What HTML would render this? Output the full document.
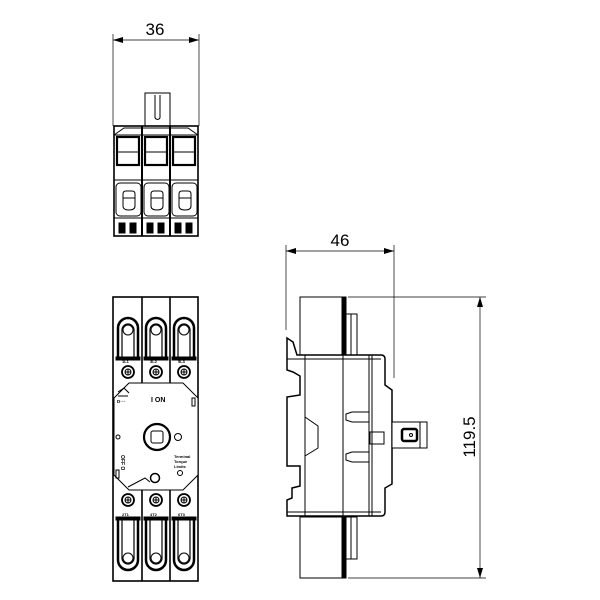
<!DOCTYPE html>
<html><head><meta charset="utf-8"><style>
html,body{margin:0;padding:0;background:#fff;width:600px;height:600px;overflow:hidden}
svg{display:block}
text{font-family:"Liberation Sans",sans-serif}
</style></head><body>
<svg width="600" height="600" viewBox="0 0 600 600" xmlns="http://www.w3.org/2000/svg">
<defs>
<marker id="ar" viewBox="0 0 10 6" refX="10" refY="3" markerWidth="10" markerHeight="6" orient="auto-start-reverse" markerUnits="userSpaceOnUse"><path d="M0,0 L10,3 L0,6 z" fill="#000"/></marker>
</defs>
<g stroke="#000" fill="none" stroke-width="1">
<!-- ===== TOP VIEW ===== -->
<line x1="113" y1="34" x2="113" y2="126" stroke-width="0.7"/>
<line x1="199" y1="34" x2="199" y2="126" stroke-width="0.7"/>
<line x1="113" y1="40" x2="199" y2="40" stroke-width="0.7" marker-start="url(#ar)" marker-end="url(#ar)"/>
<rect x="145" y="93" width="25" height="33" fill="#fff"/>
<line x1="155" y1="95" x2="155" y2="118"/><line x1="160" y1="95" x2="160" y2="118"/>
<path d="M155,118 Q157.5,121 160,118"/>
<rect x="114" y="126" width="84" height="110" stroke-width="1.6"/>
<path d="M114,135 L124,128 L188,128 L198,135" />
<line x1="114" y1="135" x2="198" y2="135"/>
<line x1="114" y1="180" x2="198" y2="180"/>
<line x1="114" y1="218" x2="198" y2="218"/>
<g id="tc">
<rect x="117" y="137" width="22" height="28" stroke-width="2.2"/>
<line x1="118" y1="152" x2="138" y2="152"/>
<rect x="116" y="183" width="25" height="33" rx="4"/>
<path d="M123,194 q0,-3 3,-3 h6 q3,0 3,3 v12 q0,4 -6,4 q-6,0 -6,-4 z"/>
<line x1="123" y1="198" x2="135" y2="198"/>
<rect x="119" y="223" width="6" height="10" fill="#000"/>
<rect x="130" y="223" width="6" height="10" fill="#000"/>
</g>
<use href="#tc" x="28"/>
<use href="#tc" x="56"/>
<line x1="142" y1="126" x2="142" y2="236" stroke-width="2"/>
<line x1="170" y1="126" x2="170" y2="236" stroke-width="2"/>
<!-- ===== FRONT VIEW ===== -->
<rect x="113" y="297" width="85" height="284" stroke-width="1.6"/>
<line x1="142" y1="297" x2="142" y2="581" stroke-width="1.6"/>
<line x1="170" y1="297" x2="170" y2="581" stroke-width="1.6"/>
<g id="ft">
<path d="M118,357 V328 a10,10 0 0 1 20,0 V357" stroke-width="2.5"/>
<path d="M122,357 V330 a6,6 0 0 1 12,0 V357" stroke-width="1.2"/>
<circle cx="128" cy="330" r="5"/>
<rect x="116" y="357" width="24" height="3" fill="#000"/>
<circle cx="128" cy="372" r="6" stroke-width="1.8"/><circle cx="128" cy="372" r="3"/>
<path d="M125,372 h6 M128,369 v6"/>
<circle cx="128" cy="500" r="6" stroke-width="1.8"/><circle cx="128" cy="500" r="3"/>
<path d="M125,500 h6 M128,497 v6"/>
<rect x="116" y="517" width="24" height="3" fill="#000"/>
<path d="M118,520 V560 a10,10 0 0 0 20,0 V520" stroke-width="2.5"/>
<path d="M122,520 V558 a6,6 0 0 0 12,0 V520" stroke-width="1.2"/>
<circle cx="128" cy="558" r="5"/>
</g>
<use href="#ft" x="28"/>
<use href="#ft" x="56"/>
<path d="M114,398 L129,383 L183,383 L198,398 L198,475 L183,490 L129,490 L114,475 Z" fill="#fff"/>
<circle cx="157" cy="437" r="13" stroke-width="2.2"/>
<rect x="151" y="431" width="12" height="12" rx="2"/>
<circle cx="178" cy="437" r="3.5"/>
<circle cx="155" cy="478" r="4.5" stroke-width="1.5"/>
<circle cx="180" cy="473" r="2.5"/>
<rect x="192" y="398" width="3" height="8"/>
<rect x="116" y="470" width="3" height="8"/>
<path d="M128,487 L145,478 L150,482"/>
<circle cx="118" cy="437" r="2"/>
<path d="M118,392 l6,-4 l5,5 M118,396 h10"/>
</g>
<g fill="#000" font-size="6" font-weight="bold">
<text x="151" y="402" font-size="7">I ON</text>
<text x="117" y="403" font-size="5">ɒ◦◦◦</text>
<text x="174" y="458" font-size="4">Terminal</text>
<text x="174" y="463" font-size="4">Torque</text>
<text x="174" y="468" font-size="4">Limits</text>
<text x="0" y="0" font-size="5" transform="translate(121,455) rotate(90)">OFF O</text>
<text x="122" y="363" font-size="4">1L1</text><text x="150" y="363" font-size="4">3L2</text><text x="178" y="363" font-size="4">5L3</text>
<text x="122" y="516" font-size="4">2T1</text><text x="150" y="516" font-size="4">4T2</text><text x="178" y="516" font-size="4">6T3</text>
</g>
<g stroke="#000" fill="none" stroke-width="1">
<!-- ===== SIDE VIEW ===== -->
<line x1="286" y1="245" x2="286" y2="330" stroke-width="0.7"/>
<line x1="394" y1="245" x2="394" y2="378" stroke-width="0.7"/>
<line x1="286" y1="251" x2="394" y2="251" stroke-width="0.7" marker-start="url(#ar)" marker-end="url(#ar)"/>
<line x1="348" y1="297" x2="486" y2="297" stroke-width="0.7"/>
<line x1="348" y1="578" x2="486" y2="578" stroke-width="0.7"/>
<line x1="480" y1="297" x2="480" y2="578" stroke-width="0.7" marker-start="url(#ar)" marker-end="url(#ar)"/>
<rect x="300" y="297" width="42" height="58"/>
<rect x="342" y="297" width="4" height="58" fill="#000"/>
<rect x="346" y="314" width="11" height="41"/>
<line x1="351" y1="314" x2="351" y2="355"/>
<rect x="300" y="517" width="42" height="61"/>
<rect x="342" y="517" width="4" height="61" fill="#000"/>
<rect x="346" y="517" width="11" height="42"/>
<line x1="351" y1="517" x2="351" y2="559"/>
<path d="M287,355 V338 L293,342 L297,355 L381,355 Q385,355 385,359 V385 L392,390 V484 L385,488 V512 Q385,516 381,516 L287,516 V500 L292,498 V488 L300,486 V466 L287,466 V397 L300,395 V376 L293,372 L287,370 Z" stroke-width="1.5" fill="#fff"/>
<line x1="287" y1="359" x2="381" y2="359"/>
<line x1="287" y1="512" x2="381" y2="512"/>
<line x1="305" y1="355" x2="305" y2="516"/>
<line x1="343" y1="355" x2="343" y2="516"/>
<line x1="369" y1="355" x2="369" y2="516"/>
<line x1="372" y1="355" x2="372" y2="516"/>
<path d="M305,417 L318,426 V448 L305,456"/>
<path d="M369,412 H352 L346,414 V420 L352,422 H369"/>
<path d="M369,452 H352 L346,454 V460 L352,462 H369"/>
<rect x="370" y="432" width="14" height="12"/>
<rect x="392" y="422" width="35" height="26" fill="#fff"/>
<line x1="420" y1="422" x2="420" y2="448"/>
<rect x="402" y="429" width="15" height="12" rx="2" stroke-width="2.5"/>
<circle cx="411" cy="435" r="1.5"/>
</g>
<text x="155" y="35" font-size="17" text-anchor="middle" fill="#000">36</text>
<text x="340" y="246" font-size="17" text-anchor="middle" fill="#000">46</text>
<text x="0" y="0" font-size="17" text-anchor="middle" fill="#000" transform="translate(475,437) rotate(-90)">119.5</text>
</svg>
</body></html>
